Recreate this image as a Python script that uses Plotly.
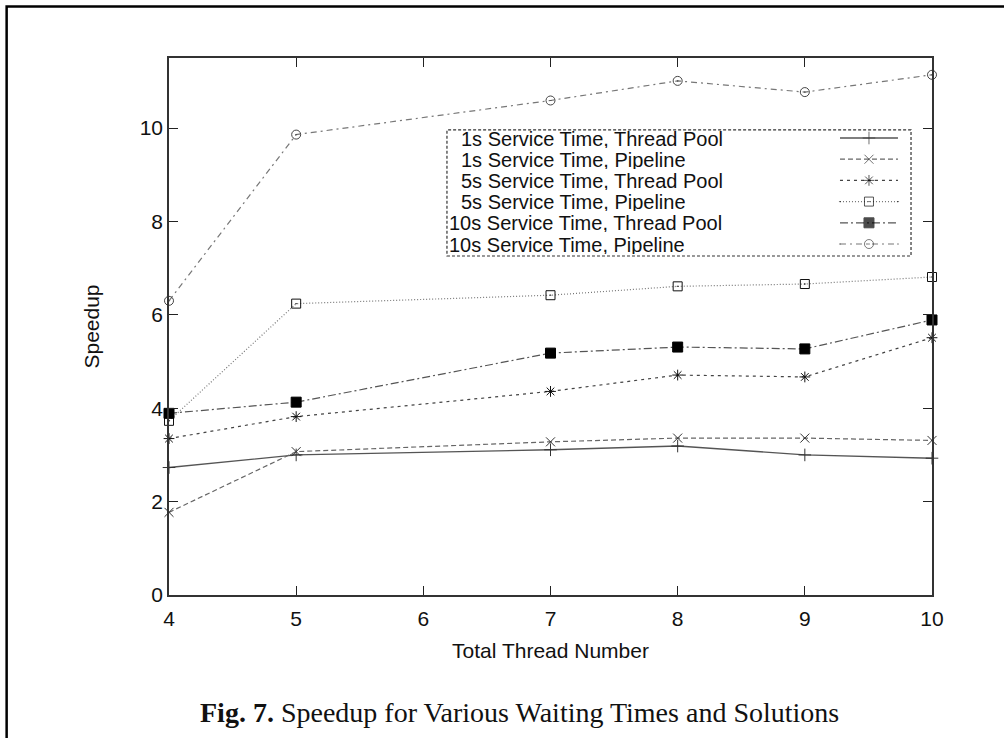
import plotly.graph_objects as go

threads = [4, 5, 7, 8, 9, 10]
tp_1s = [2.73, 3.00, 3.11, 3.19, 3.00, 2.93]
pl_1s = [1.77, 3.07, 3.28, 3.36, 3.36, 3.31]
tp_5s = [3.35, 3.82, 4.36, 4.71, 4.67, 5.51]
pl_5s = [3.73, 6.24, 6.42, 6.61, 6.66, 6.81]
tp_10s = [3.89, 4.13, 5.18, 5.31, 5.27, 5.89]
pl_10s = [6.30, 9.86, 10.59, 11.01, 10.77, 11.14]

names = [
    "1s Service Time, Thread Pool",
    "1s Service Time, Pipeline",
    "5s Service Time, Thread Pool",
    "5s Service Time, Pipeline",
    "10s Service Time, Thread Pool",
    "10s Service Time, Pipeline",
]
series = [tp_1s, pl_1s, tp_5s, pl_5s, tp_10s, pl_10s]
x_ticks = [4, 5, 6, 7, 8, 9, 10]
y_ticks = [0, 2, 4, 6, 8, 10]

styles = [
    dict(color="#555555", dash="solid", width=1.4, symbol="cross-thin-open", size=9, mcolor="#333333"),
    dict(color="#666666", dash="5px,3px", width=1.2, symbol="x-thin-open", size=9, mcolor="#333333"),
    dict(color="#444444", dash="3px,4px", width=1.2, symbol="asterisk-open", size=9, mcolor="#111111"),
    dict(color="#777777", dash="1px,2px", width=1.2, symbol="square-open-dot", size=9, mcolor="#111111"),
    dict(color="#555555", dash="8px,3px,2px,3px", width=1.2, symbol="square", size=10, mcolor="#000000"),
    dict(color="#777777", dash="6px,4px,2px,4px", width=1.2, symbol="circle-open-dot", size=9, mcolor="#444444"),
]

FONT = "Liberation Sans, Arial, sans-serif"
FS = 21
KEY_FS = 20

fig = go.Figure()
for name, ys, st in zip(names, series, styles):
    fig.add_trace(go.Scatter(
        x=threads, y=ys, name=name, mode="lines+markers",
        line=dict(color=st["color"], dash=st["dash"], width=st["width"]),
        marker=dict(symbol=st["symbol"], size=st["size"], color=st["mcolor"],
                    line=dict(color=st["mcolor"], width=1)),
        showlegend=False, cliponaxis=False,
    ))

# custom gnuplot-style key (text left, sample right) on an overlay paper-like axis
row_y = [0.8510, 0.8115, 0.7721, 0.7326, 0.6931, 0.6536]
text_x = [0.3814, 0.3814, 0.3814, 0.3814, 0.3657, 0.3657]
for name, st, ry, tx in zip(names, styles, row_y, text_x):
    fig.add_trace(go.Scatter(
        x=[0.8794, 0.9174, 0.9554], y=[ry, ry, ry], xaxis="x2", yaxis="y2",
        mode="lines+markers",
        line=dict(color=st["color"], dash=st["dash"], width=st["width"]),
        marker=dict(symbol=st["symbol"], size=[0, st["size"], 0], color=st["mcolor"],
                    line=dict(color=st["mcolor"], width=1)),
        showlegend=False, hoverinfo="skip",
    ))
    fig.add_annotation(x=tx, y=ry, xref="paper", yref="paper", text=name,
                       showarrow=False, xanchor="left", yanchor="middle",
                       height=19, borderpad=0,
                       font=dict(family=FONT, size=KEY_FS, color="#111111"))

fig.add_shape(type="rect", xref="paper", yref="paper", x0=0.3643, x1=0.9725,
              y0=0.6313, y1=0.866, line=dict(color="#333333", width=1.2, dash="3px,2px"),
              layer="below")

# outer frame of the page
fig.add_shape(type="rect", xref="paper", yref="paper", x0=-0.2128, x1=1.12,
              y0=-0.34, y1=1.0959, line=dict(color="#000000", width=2.5))

fig.add_annotation(x=0.46, y=-0.2179, xref="paper", yref="paper",
                   text="<b>Fig. 7.</b> Speedup for Various Waiting Times and Solutions",
                   showarrow=False, xanchor="center", yanchor="middle",
                   font=dict(family="Liberation Serif, Times New Roman, serif", size=28, color="#111111"))

fig.update_layout(
    width=1004, height=738,
    margin=dict(l=169, r=72, t=58, b=143),
    paper_bgcolor="white", plot_bgcolor="white",
    font=dict(family=FONT, size=FS, color="#111111"),
    xaxis=dict(range=[4, 10], tickvals=x_ticks, ticktext=[str(v) for v in x_ticks],
               ticks="inside", ticklen=9, tickcolor="#222222", mirror="allticks",
               showline=True, linecolor="#333333", linewidth=1.5, showgrid=False, zeroline=False,
               ticklabelstandoff=4,
               title=dict(text="Total Thread Number", standoff=14, font=dict(size=FS)),
               tickfont=dict(size=FS)),
    yaxis=dict(range=[0, 11.5], tickvals=y_ticks, ticktext=[str(v) for v in y_ticks],
               ticks="inside", ticklen=9, tickcolor="#222222", mirror="allticks",
               showline=True, linecolor="#333333", linewidth=1.5, showgrid=False, zeroline=False,
               title=dict(text="Speedup", standoff=34, font=dict(size=FS)),
               tickfont=dict(size=FS)),
    xaxis2=dict(range=[0, 1], overlaying="x", visible=False, fixedrange=True),
    yaxis2=dict(range=[0, 1], overlaying="y", visible=False, fixedrange=True),
)

fig.write_html("out.html", config={"displayModeBar": False},
               post_script="document.body.style.margin='0';document.body.style.overflow='hidden';")
